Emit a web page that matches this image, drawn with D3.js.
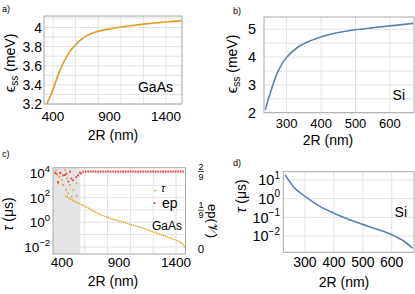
<!DOCTYPE html>
<html>
<head>
<script src="https://d3js.org/d3.v7.min.js"></script>
<style>
  body { margin: 0; background: #fff; }
  text { font-family: "Liberation Sans", Arial, sans-serif; fill: #000; }
</style>
</head>
<body>
<svg id="fig" width="415" height="294"></svg>
<script>
// ---- data ----
// a) GaAs, eps_ss (meV) vs 2R (nm)
var gaasR   = [347, 360, 375, 400, 450, 500, 550, 600, 650, 700, 800, 900, 1000, 1100, 1200, 1300, 1400, 1540];
var gaasEss = [3.2, 3.24, 3.28, 3.35, 3.52, 3.65, 3.75, 3.82, 3.875, 3.915, 3.96, 3.985, 4.005, 4.021, 4.035, 4.047, 4.058, 4.072];

// b) Si, eps_ss (meV)
var siR   = [238, 245, 255, 265, 274, 300, 334, 372, 401, 450, 500, 547, 600, 668];
var siEss = [2.1, 2.42, 2.82, 3.18, 3.47, 3.99, 4.37, 4.6, 4.73, 4.88, 4.98, 5.05, 5.12, 5.21];

// c) GaAs, tau (us) main branch
var gaasTauR = [426, 500, 600, 710, 800, 900, 1000, 1100, 1200, 1300, 1400, 1450, 1478];
var gaasTau  = [145, 56, 20, 5.6, 2.5, 1.26, 0.68, 0.355, 0.166, 0.079, 0.035, 0.02, 0.0089];
// c) scattered tau points in the shaded region
var scatTauR = [347, 359, 368, 376, 389, 397, 411, 426, 435, 441, 455, 470, 485, 499, 529, 529];
var scatTau  = [17000, 6900, 1450, 5000, 9500, 2700, 1070, 17000, 420, 3700, 224, 1070, 120, 420, 1450, 145];
// c) ep points
var epR = [339, 350, 365, 382, 409, 426, 438, 455, 470, 482, 496, 525, 540, 558, 569];
var epV = [0.219, 0.216, 0.192, 0.219, 0.211, 0.212, 0.216, 0.193, 0.222, 0.202, 0.197, 0.206, 0.211, 0.219, 0.216];
var epFlatR = [578, 1475];
var epFlatV = [2/9, 2/9];
var shadeR = [321, 560];

// d) Si, tau (us)
var siTauR = [231, 250, 265, 300, 350, 400, 450, 500, 550, 600, 640, 672];
var siTau  = [18.6, 7.1, 3.55, 1.32, 0.4, 0.166, 0.079, 0.042, 0.0229, 0.0117, 0.0056, 0.00224];

// ticks
var ticksRa = [400, 900, 1400];
var ticksRb = [300, 400, 500, 600];
var ticksEa = [3.2, 3.4, 3.6, 3.8, 4];
var ticksEb = [2, 3, 4, 5];
var ticksExpC = [-2, 0, 2, 4];
var ticksExpD = [-2, -1, 0, 1];
var ticksEp = [0, 1/9, 2/9];
var ticksEpNum = ["0", "1", "2"];

var orange = "#e19c24", blue = "#5e81b5", red = "#f23a3a";
var gridCol = "#e2e2e2", frameCol = "#a8a8a8";

var svg = d3.select("#fig");

function drawFrame(id, x, y, xGrid, yGrid) {
  var g = svg.append("g");
  var x0 = x.range()[0], x1 = x.range()[1], y0 = y.range()[0], y1 = y.range()[1];
  svg.append("clipPath").attr("id", id).append("rect")
    .attr("x", x0).attr("y", y1).attr("width", x1 - x0).attr("height", y0 - y1);
  g.selectAll("line.gx").data(xGrid).enter().append("line")
    .attr("x1", d => x(d)).attr("x2", d => x(d)).attr("y1", y1).attr("y2", y0)
    .attr("stroke", gridCol).attr("stroke-width", 1);
  g.selectAll("line.gy").data(yGrid).enter().append("line")
    .attr("y1", d => y(d)).attr("y2", d => y(d)).attr("x1", x0).attr("x2", x1)
    .attr("stroke", gridCol).attr("stroke-width", 1);
  return g;
}
function box(x, y) {
  svg.append("rect")
    .attr("x", x.range()[0]).attr("y", y.range()[1])
    .attr("width", x.range()[1] - x.range()[0]).attr("height", y.range()[0] - y.range()[1])
    .attr("fill", "none").attr("stroke", frameCol).attr("stroke-width", 1);
}
function xLabels(x, ticks, base, size) {
  svg.append("g").selectAll("text").data(ticks).enter().append("text")
    .attr("x", d => x(d)).attr("y", base).attr("text-anchor", "middle")
    .attr("font-size", size).text(d => d);
}
function yLabels(y, ticks, right, size) {
  svg.append("g").selectAll("text").data(ticks).enter().append("text")
    .attr("x", right).attr("y", d => y(d)).attr("dy", "0.36em").attr("text-anchor", "end")
    .attr("font-size", size).text(d => d);
}
function yLogLabels(y, exps, right, size, sup) {
  var t = svg.append("g").selectAll("text").data(exps).enter().append("text")
    .attr("x", right).attr("y", d => y(Math.pow(10, d))).attr("dy", "0.36em")
    .attr("text-anchor", "end").attr("font-size", size);
  t.append("tspan").text("10");
  t.append("tspan").attr("dy", -size * 0.45).attr("font-size", sup)
    .text(d => d < 0 ? "\u2212" + (-d) : d);
}
function rotLabel(x, y, angle, parts) {
  var t = svg.append("text").attr("transform", "translate(" + x + "," + y + ") rotate(" + angle + ")")
    .attr("text-anchor", "middle");
  parts.forEach(p => {
    t.append("tspan").attr("font-size", p.size).attr("dy", p.dy || 0)
      .attr("font-style", p.italic ? "italic" : null).text(p.t);
  });
  return t;
}
function panelTag(x, y, s) {
  svg.append("text").attr("x", x).attr("y", y).attr("font-size", 9).text(s);
}

// ---------- a) ----------
var xa = d3.scaleLinear().domain([320, 1542]).range([44, 182]);
var ya = d3.scaleLinear().domain([3.2, 4.12]).range([104, 16]);
drawFrame("ca", xa, ya, d3.range(400, 1541, 200), d3.range(3.2, 4.11, 0.1));
svg.append("path").datum(gaasR.map((r, i) => [r, gaasEss[i]]))
  .attr("clip-path", "url(#ca)").attr("fill", "none").attr("stroke", orange).attr("stroke-width", 1.6)
  .attr("d", d3.line().x(d => xa(d[0])).y(d => ya(d[1])).curve(d3.curveCatmullRom.alpha(0.5)));
box(xa, ya);
xLabels(xa, ticksRa, 121, 13.5);
yLabels(ya, ticksEa, 42, 14);
svg.append("text").attr("x", 113).attr("y", 140).attr("text-anchor", "middle").attr("font-size", 14).text("2R (nm)");
rotLabel(15, 63, -90, [{t: "\u03f5", size: 15}, {t: "ss", size: 10, dy: 3}, {t: " (meV)", size: 14, dy: -3}]);
svg.append("text").attr("x", 173).attr("y", 92).attr("text-anchor", "end").attr("font-size", 14).text("GaAs");
panelTag(2, 12, "a)");

// ---------- b) ----------
var xb = d3.scaleLinear().domain([234, 670]).range([264, 414]);
var yb = d3.scaleLinear().domain([2, 5.44]).range([112.7, 17]);
drawFrame("cb", xb, yb, ticksRb, d3.range(2, 5.41, 0.5));
svg.append("path").datum(siR.map((r, i) => [r, siEss[i]]))
  .attr("clip-path", "url(#cb)").attr("fill", "none").attr("stroke", blue).attr("stroke-width", 1.6)
  .attr("d", d3.line().x(d => xb(d[0])).y(d => yb(d[1])).curve(d3.curveCatmullRom.alpha(0.5)));
box(xb, yb);
xLabels(xb, ticksRb, 128, 13);
yLabels(yb, ticksEb, 256, 14.5);
svg.append("text").attr("x", 328).attr("y", 145).attr("text-anchor", "middle").attr("font-size", 14).text("2R (nm)");
rotLabel(237, 64, -90, [{t: "\u03f5", size: 15}, {t: "ss", size: 10, dy: 3}, {t: " (meV)", size: 14, dy: -3}]);
svg.append("text").attr("x", 405).attr("y", 100).attr("text-anchor", "end").attr("font-size", 14).text("Si");
panelTag(233, 14, "b)");

// ---------- c) ----------
var xc = d3.scaleLinear().domain([321, 1483]).range([53, 185.5]);
var yc = d3.scaleLog().domain([Math.pow(10, -2.57), Math.pow(10, 4.43)]).range([254, 167.7]);
var yc2 = d3.scaleLinear().domain([0, 2/9]).range([249, 171.5]);
svg.append("rect").attr("x", xc(shadeR[0])).attr("y", 167.7)
  .attr("width", xc(shadeR[1]) - xc(shadeR[0])).attr("height", 254 - 167.7).attr("fill", "#e4e4e4");
drawFrame("cc", xc, yc, d3.range(400, 1481, 200), [1e-2, 1e-1, 1, 10, 100, 1e3, 1e4]);
var gc = svg.append("g").attr("clip-path", "url(#cc)");
gc.append("path").datum(gaasTauR.map((r, i) => [r, gaasTau[i]]))
  .attr("fill", "none").attr("stroke", orange).attr("stroke-width", 1.3).attr("stroke-dasharray", "1.4,0.6")
  .attr("d", d3.line().x(d => xc(d[0])).y(d => yc(d[1])).curve(d3.curveCatmullRom.alpha(0.5)));
gc.selectAll("rect.st").data(scatTauR).enter().append("rect")
  .attr("x", (d, i) => xc(d) - 0.8).attr("y", (d, i) => yc(scatTau[i]) - 0.8)
  .attr("width", 1.6).attr("height", 1.6).attr("fill", orange);
gc.append("path").datum(epFlatR.map((r, i) => [r, epFlatV[i]]))
  .attr("fill", "none").attr("stroke", red).attr("stroke-width", 1.8).attr("stroke-dasharray", "1.6,0.9")
  .attr("d", d3.line().x(d => xc(d[0])).y(d => yc2(d[1])));
gc.selectAll("rect.ep").data(epR).enter().append("rect")
  .attr("x", d => xc(d) - 0.9).attr("y", (d, i) => yc2(epV[i]) - 0.9)
  .attr("width", 1.8).attr("height", 1.8).attr("fill", red);
box(xc, yc);
xLabels(xc, ticksRa, 267, 13.5);
yLogLabels(yc, ticksExpC, 50, 13.5, 9.5);
// right axis fractions
var rt = svg.append("g").selectAll("g").data(ticksEp).enter().append("g")
  .attr("transform", d => "translate(201," + yc2(d) + ")");
rt.filter((d, i) => i == 0).append("text").attr("y", 4).attr("text-anchor", "middle").attr("font-size", 11.5).text("0");
rt.filter((d, i) => i > 0).append("text").attr("y", -2).attr("text-anchor", "middle").attr("font-size", 9)
  .text((d, i) => ticksEpNum[i + 1]);
rt.filter((d, i) => i > 0).append("line").attr("x1", -3).attr("x2", 3).attr("stroke", "#000").attr("stroke-width", 0.7);
rt.filter((d, i) => i > 0).append("text").attr("y", 8).attr("text-anchor", "middle").attr("font-size", 9).text("9");
svg.append("text").attr("x", 113).attr("y", 286).attr("text-anchor", "middle").attr("font-size", 14).text("2R (nm)");
rotLabel(13, 214, -90, [{t: "\u03c4", size: 14, italic: true}, {t: " (\u03bcs)", size: 14}]);
rotLabel(208, 221, 90, [{t: "ep(", size: 13}, {t: "\ud835\udcb1", size: 13}, {t: ")", size: 13}]);
// legend
svg.append("rect").attr("x", 154.2).attr("y", 189.7).attr("width", 1.6).attr("height", 1.6).attr("fill", orange);
svg.append("text").attr("x", 161).attr("y", 192).attr("font-size", 11).attr("font-style", "italic").text("\u03c4");
svg.append("rect").attr("x", 153.6).attr("y", 202.1).attr("width", 1.8).attr("height", 1.8).attr("fill", red);
svg.append("text").attr("x", 162).attr("y", 208).attr("font-size", 14).text("ep");
svg.append("text").attr("x", 182).attr("y", 230).attr("text-anchor", "end").attr("font-size", 12).text("GaAs");
panelTag(2, 157, "c)");

// ---------- d) ----------
var xd = d3.scaleLinear().domain([225, 677]).range([283.3, 414]);
var yd = d3.scaleLog().domain([Math.pow(10, -2.87), Math.pow(10, 1.44)]).range([252.3, 171.7]);
drawFrame("cd", xd, yd, ticksRb, [1e-2, 1e-1, 1, 10]);
svg.append("path").datum(siTauR.map((r, i) => [r, siTau[i]]))
  .attr("clip-path", "url(#cd)").attr("fill", "none").attr("stroke", blue).attr("stroke-width", 1.6)
  .attr("d", d3.line().x(d => xd(d[0])).y(d => yd(d[1])).curve(d3.curveCatmullRom.alpha(0.5)));
box(xd, yd);
xLabels(xd, ticksRb, 267, 14);
yLogLabels(yd, ticksExpD, 280, 14.5, 10);
svg.append("text").attr("x", 344).attr("y", 287).attr("text-anchor", "middle").attr("font-size", 14).text("2R (nm)");
rotLabel(246, 196, -90, [{t: "\u03c4", size: 14, italic: true}, {t: " (\u03bcs)", size: 14}]);
svg.append("text").attr("x", 407).attr("y", 217).attr("text-anchor", "end").attr("font-size", 14).text("Si");
panelTag(233, 166, "d)");
</script>
</body>
</html>
